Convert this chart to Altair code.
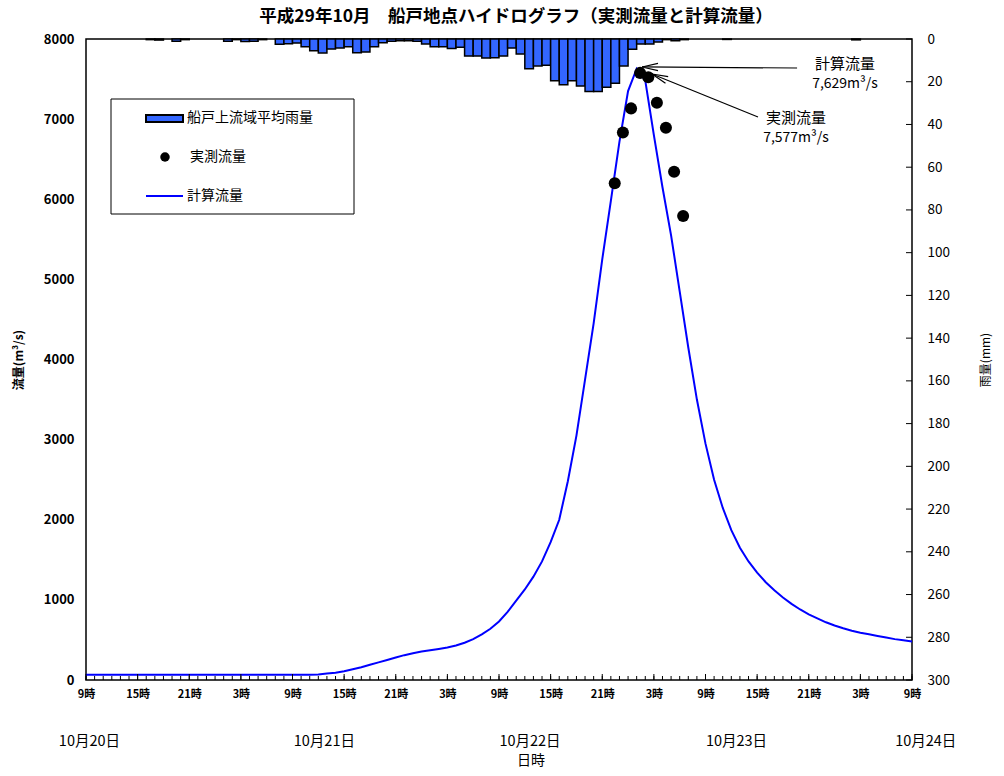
import altair as alt
import pandas as pd

FONT = "Noto Sans CJK JP"

# ---------------- data ----------------
# hours since 2017-10-20 09:00
hours = list(range(97))
calc_flow = [
    65, 65, 65, 65, 65, 65, 65, 65, 65, 65,
    65, 65, 65, 65, 65, 65, 65, 65, 65, 65,
    65, 65, 65, 65, 65, 65, 66, 70, 80, 90,
    110, 135, 160, 190, 220, 250, 280, 310, 335, 355,
    372, 388, 405, 430, 465, 510, 570, 640, 730, 850,
    990, 1130, 1290, 1480, 1720, 2000, 2480, 3050, 3750, 4450,
    5250, 5980, 6720, 7350, 7629, 7480, 6800, 6150, 5550, 4850,
    4150, 3500, 2950, 2500, 2150, 1870, 1650, 1480, 1340, 1220,
    1120, 1030, 950, 880, 820, 770, 720, 680, 645, 615,
    590, 570, 550, 530, 510, 495, 480,
]

rain_hours = list(range(96))
rain = [
    0, 0, 0, 0, 0, 0, 0, 0.3, 0.5, 0,
    1.1, 0.3, 0, 0, 0, 0, 1.0, 0.3, 1.2, 1.0,
    0.3, 0, 2.5, 2.2, 1.9, 3.6, 5.5, 6.5, 4.7, 4.2,
    3.6, 6.4, 6.1, 3.6, 1.7, 1.1, 0.8, 0.8, 1.0, 2.3,
    3.6, 3.6, 4.5, 3.9, 8.0, 8.0, 8.9, 8.8, 8.0, 4.2,
    7.0, 13.9, 12.6, 12.3, 19.5, 21.4, 19.5, 22.0, 24.6, 24.6,
    22.6, 20.7, 12.6, 4.8, 2.3, 2.3, 1.4, 0.3, 0.8, 0.3,
    0, 0, 0, 0, 0.2, 0, 0, 0, 0, 0,
    0, 0, 0, 0, 0, 0, 0, 0, 0, 0.4,
    0, 0, 0, 0, 0, 0,
]

obs_hours = [61.45, 62.4, 63.35, 64.4, 65.35, 66.35, 67.4, 68.35, 69.4]
obs_flow = [6199, 6833, 7134, 7577, 7522, 7205, 6893, 6344, 5791]

tick_hours = [0, 6, 12, 18, 24, 30, 36, 42, 48, 54, 60, 66, 72, 78, 84, 90, 96]
flow_ticks = [0, 1000, 2000, 3000, 4000, 5000, 6000, 7000, 8000]
rain_ticks = list(range(0, 301, 20))

date_labels = ["10月20日", "10月21日", "10月22日", "10月23日", "10月24日"]
date_pos_h = [0.4, 27.7, 51.6, 75.6, 97.6]

W, H = 826, 641

df_flow = pd.DataFrame({"h": hours, "flow": calc_flow})
df_rain = pd.DataFrame({"h": rain_hours, "h2": [h + 1 for h in rain_hours], "rain": rain})
df_rain = df_rain[df_rain["rain"] > 0]
df_obs = pd.DataFrame({"h": obs_hours, "flow": obs_flow})

xscale = alt.Scale(domain=[0, 96], nice=False, zero=False)
xaxis = alt.Axis(values=tick_hours, labelExpr="((datum.value + 9) % 24) + '時'",
                 labelFontSize=11, labelFontWeight="bold", labelFont=FONT,
                 labelColor="black", ticks=False, domain=False, grid=False,
                 labelPadding=8, labelFlush=False, title=None)


def X(field="h"):
    return alt.X(f"{field}:Q", scale=xscale, axis=xaxis, title=None)


flow_scale = alt.Scale(domain=[0, 8000], nice=False)
flow_axis = alt.Axis(values=flow_ticks, format="d", labelFontSize=13, labelFontWeight="bold",
                     labelFont=FONT, labelColor="black", ticks=False, domain=False,
                     grid=False, labelPadding=12, title="流量(m³/s)",
                     titleFont=FONT, titleFontSize=12, titleFontWeight="bold",
                     titleColor="black", titleAngle=270, titleX=-68, titleY=H / 2,
                     titleAlign="center", titleBaseline="middle")

rain_scale = alt.Scale(domain=[0, 300], reverse=True, nice=False)
rain_axis = alt.Axis(values=rain_ticks, orient="right", labelFontSize=13.5,
                     labelFont=FONT, labelColor="black", ticks=False, domain=False,
                     grid=False, labelPadding=15, title="雨量(mm)",
                     titleFont=FONT, titleFontSize=12, titleFontWeight="normal",
                     titleColor="black", titleAngle=270, titleX=73, titleY=H / 2,
                     titleAlign="center", titleBaseline="middle")


def Yf(field="flow"):
    return alt.Y(f"{field}:Q", scale=flow_scale, axis=flow_axis, title="流量(m³/s)")


def Yr(field="rain"):
    return alt.Y(f"{field}:Q", scale=rain_scale, axis=rain_axis, title="雨量(mm)")


# rain group
bars = alt.Chart(df_rain).mark_bar(color="#3366ff", stroke="black", strokeWidth=1.5).encode(
    x=X("h"), x2="h2", y=Yr("rain"), y2=alt.datum(0)
)
rtick_df = pd.DataFrame({"rain": rain_ticks})
rticks = alt.Chart(rtick_df).mark_rule(color="black", strokeWidth=1).encode(
    y=Yr("rain"), x=alt.value(W - 6), x2=alt.value(W)
)
rain_group = alt.layer(bars, rticks)

# flow group
line = alt.Chart(df_flow).mark_line(color="#0000ff", strokeWidth=2).encode(
    x=X("h"), y=Yf("flow")
)
pts = alt.Chart(df_obs).mark_point(filled=True, color="black", size=145, opacity=1).encode(
    x=X("h"), y=Yf("flow")
)

arrow_df = pd.DataFrame({
    "h": [82.64, 78.10], "h2": [64.62, 65.78],
    "flow": [7638, 7027], "flow2": [7651, 7563],
    "ang": [0, 22],
})
arrow_lines = alt.Chart(arrow_df).mark_rule(color="black", strokeWidth=1.2).encode(
    x=X("h"), x2="h2", y=Yf("flow"), y2="flow2"
)
arrow_heads = alt.Chart(arrow_df).mark_point(
    shape="M0,0L2,-0.45M0,0L2,0.45", filled=False, color="black",
    strokeWidth=1.2, size=256, opacity=1
).encode(
    x=X("h2"), y=Yf("flow2"), angle=alt.Angle("ang:Q", scale=None)
)
flow_group = alt.layer(line, pts, arrow_lines, arrow_heads)

# x-axis inside ticks
xt_df = pd.DataFrame({"h": hours})
xt_minor = alt.Chart(xt_df).mark_rule(color="black", strokeWidth=1).encode(
    x=X("h"), y=alt.value(H), y2=alt.value(H - 4)
)
xt_major = alt.Chart(pd.DataFrame({"h": tick_hours})).mark_rule(color="black", strokeWidth=1).encode(
    x=X("h"), y=alt.value(H), y2=alt.value(H - 6)
)

# date labels under the axis
date_df = pd.DataFrame({"h": date_pos_h, "label": date_labels})
dates = alt.Chart(date_df).mark_text(font=FONT, fontSize=14.5, color="black",
                                     baseline="middle", align="center").encode(
    x=X("h"), y=alt.value(703), text="label:N"
)

one = pd.DataFrame({"a": [0]})


def txt(s, x, y, size=14, weight="normal", align="center"):
    return alt.Chart(one).mark_text(text=s, font=FONT, fontSize=size, fontWeight=weight,
                                    color="black", align=align, baseline="middle").encode(
        x=alt.value(x), y=alt.value(y)
    )


title = txt("平成29年10月　船戸地点ハイドログラフ（実測流量と計算流量）", 430, -22, size=17.5, weight="bold")
xtitle = txt("日時", 445, 722, size=14)

ann = [
    txt("計算流量", 759, 25, size=15),
    txt("7,629m³/s", 759, 45, size=14),
    txt("実測流量", 710, 79, size=15),
    txt("7,577m³/s", 710, 99, size=14),
]

# legend
leg_box = alt.Chart(one).mark_rect(fill="white", stroke="black", strokeWidth=1).encode(
    x=alt.value(25), x2=alt.value(268), y=alt.value(60), y2=alt.value(175)
)
leg_bar = alt.Chart(one).mark_rect(fill="#3366ff", stroke="black", strokeWidth=2).encode(
    x=alt.value(60), x2=alt.value(97), y=alt.value(76), y2=alt.value(83)
)
leg_dot = alt.Chart(one).mark_point(filled=True, color="black", size=90, opacity=1).encode(
    x=alt.value(79), y=alt.value(118)
)
leg_line = alt.Chart(one).mark_rule(color="#0000ff", strokeWidth=2).encode(
    x=alt.value(60), x2=alt.value(97), y=alt.value(157)
)
leg_texts = [
    txt("船戸上流域平均雨量", 101, 79, size=14, align="left"),
    txt("実測流量", 104, 118, size=14, align="left"),
    txt("計算流量", 101, 157, size=14, align="left"),
]

chart = alt.layer(
    rain_group, flow_group
).resolve_scale(y="independent")

chart = alt.layer(
    chart, xt_minor, xt_major, dates, title, xtitle, *ann,
    leg_box, leg_bar, leg_dot, leg_line, *leg_texts
).properties(
    width=W, height=H,
    autosize=alt.AutoSizeParams(type="none"),
    padding={"left": 86, "top": 39, "right": 92, "bottom": 96},
    background="white",
).configure_view(
    stroke="black", strokeWidth=1.5
)

chart.save("out.html", embed_options={"renderer": "svg", "actions": False})
